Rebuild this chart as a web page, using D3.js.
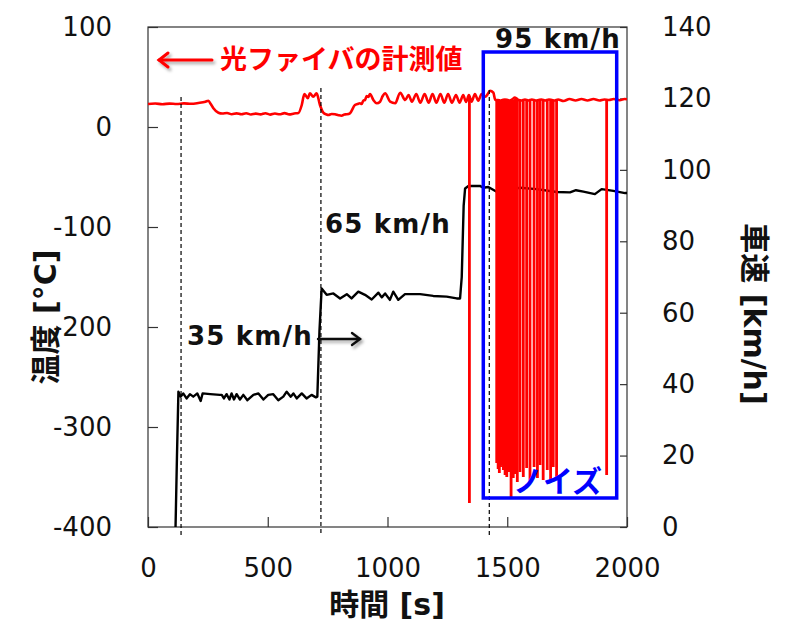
<!DOCTYPE html>
<html>
<head>
<meta charset="utf-8">
<script src="https://cdn.jsdelivr.net/npm/d3@7.9.0/dist/d3.min.js"></script>
<style>
  body { margin: 0; background: #fff; }
  svg { display: block; }
</style>
</head>
<body>
<div id="chart"></div>
<script>
// temperature from the optical fiber (red), baseline readings
const tempTime = [0, 30, 60, 90, 120, 150, 180, 210, 240, 252, 262, 273, 294, 310, 330, 350, 370, 390, 410, 430, 450, 470, 490, 510, 530, 550, 570, 590, 610, 628,
  642, 653, 660, 667, 676, 690, 704, 718, 732, 745, 753, 767, 781, 795, 808, 820, 829, 843,
  864, 875, 885, 892, 899, 906, 913, 920, 927, 941, 955, 969, 980, 990, 1011, 1032, 1053, 1074, 1088, 1102, 1120, 1137, 1155, 1172, 1188, 1204, 1221, 1237, 1253, 1269, 1286, 1301, 1316, 1328, 1340, 1351, 1365, 1379, 1393, 1407, 1416, 1428, 1442,
  1450, 1461, 1472, 1480, 1490, 1502, 1511, 1520, 1532, 1547, 1560, 1574, 1588, 1603, 1619, 1631, 1643, 1658, 1674, 1686, 1699, 1712,
  1735, 1760, 1785, 1810, 1835, 1860, 1885, 1905, 1925, 1945, 1970, 1990, 2000];
const tempValue = [23, 23.5, 22.8, 23.4, 23, 23.6, 23.2, 24, 25.3, 26.3, 23, 18.7, 14.3, 13.5, 14, 12.8, 13.6, 12.7, 13.8, 12.5, 13.4, 12.6, 13.8, 12.4, 13.5, 12.7, 13.9, 12.6, 13.5, 14,
  22, 33, 31, 28.7, 33.7, 30.3, 33.7, 22, 14.3, 12.5, 12, 13, 12.7, 11.8, 11.3, 12.5, 12.7, 13.7,
  22, 23, 23.7, 23, 26.3, 27, 31, 30, 33, 27, 23.7, 25.3, 31, 33.7, 25.3, 23.7, 34.3, 27, 32, 25.3, 33, 24.3, 33, 24.3, 33, 24.3, 33, 24.3, 33, 24.3, 32, 24.3, 32, 25, 32, 25.3, 33, 26.3, 33, 30.3, 32, 36.3, 34.3,
  27, 27, 26.5, 27, 27.5, 27, 26.5, 27.5, 29.5, 27, 26.5, 27.5, 26.5, 27.5, 26.5, 27, 27.5, 26.5, 27.5, 27, 26.5, 27.5,
  26, 28, 26.5, 28, 26.5, 28, 26.5, 27.5, 27, 28, 26.8, 28, 27.8];

// noise drops in the fiber reading (time, level it drops from, lowest value)
const noiseTime = [1342, 1456, 1462, 1467, 1472, 1477, 1484, 1491, 1498, 1507, 1516, 1525, 1534, 1542, 1553, 1567, 1581, 1595, 1612, 1626, 1637, 1650, 1667, 1681, 1692, 1706, 1915];
const noiseTop = [31, 27, 27, 27, 27, 27, 27, 27, 27, 27, 27, 27, 28, 27, 27, 27, 27, 27, 27, 27, 27, 27, 27, 27, 27, 27, 27];
const noiseMin = [-376, -336, -342, -346, -340, -338, -343, -348, -350, -345, -370, -351, -347, -355, -345, -350, -341, -356, -340, -351, -338, -353, -343, -355, -340, -350, -348];

// vehicle speed (black)
const speedTime = [115, 121, 127, 136, 147, 161, 175, 189, 206, 220, 228, 260, 300, 308, 317, 328, 340, 349, 359, 370, 384, 398, 415, 440, 461, 482, 502, 523, 544, 565, 579, 596, 607, 621, 642, 662, 683, 701, 707,
  716, 725, 746, 774, 802, 830, 850, 878, 906, 934, 962, 976, 990, 1010, 1024, 1045, 1073, 1136, 1191, 1247, 1289, 1303,
  1310, 1318, 1324, 1338, 1386, 1400, 1421, 1463, 1498, 1553, 1623, 1706, 1762, 1787, 1818, 1866, 1894, 1943, 1992, 2000];
const speedValue = [0, 20, 37.9, 36.5, 37.4, 36, 37.2, 36.5, 37.4, 35.3, 37.4, 37.2, 37, 37, 36, 37.2, 35.7, 37.4, 35.7, 37.2, 35.7, 37, 35.5, 37, 37.4, 35.7, 37, 37.2, 35.5, 36.5, 37.9, 36.5, 37.4, 36, 37.4, 36, 37, 36.3, 36.5,
  55, 66.8, 65, 65.4, 64, 65.2, 64, 65.9, 65, 63.7, 65.6, 64.3, 65.4, 63.6, 65.9, 63.6, 65.2, 65.2, 64.7, 64.5, 64, 64,
  70, 90, 94.8, 95.5, 95.5, 95, 95.2, 93.6, 94, 95, 94.6, 93.8, 93.7, 94.3, 93.9, 93.2, 94.6, 94.1, 93.5, 93.5];

// dashed markers where each speed step is reached
const markerTime = [138, 722, 1425];
const markerTop = [30, 39, 37];

const xTicks = [0, 500, 1000, 1500, 2000];
const tempTicks = [-400, -300, -200, -100, 0, 100];
const speedTicks = [0, 20, 40, 60, 80, 100, 120, 140];

const W = 795, H = 627;
const mLeft = 148, mRight = 627, mTop = 27, mBottom = 527;

const svg = d3.select("#chart").append("svg")
  .attr("width", W).attr("height", H);

const defs = svg.append("defs");
const shadow = defs.append("filter").attr("id", "shadow")
  .attr("x", "-20%").attr("y", "-50%").attr("width", "150%").attr("height", "250%");
shadow.append("feDropShadow")
  .attr("dx", 2).attr("dy", 2.5).attr("stdDeviation", 1.5)
  .attr("flood-color", "#000").attr("flood-opacity", 0.35);
defs.append("clipPath").attr("id", "plot")
  .append("rect").attr("x", mLeft).attr("y", mTop).attr("width", mRight - mLeft).attr("height", mBottom - mTop);

const x = d3.scaleLinear().domain([0, 2000]).range([mLeft, mRight]);
const yT = d3.scaleLinear().domain([-400, 100]).range([mBottom, mTop]);
const yS = d3.scaleLinear().domain([0, 140]).range([mBottom, mTop]);

const tickFont = "'DejaVu Sans', Verdana, sans-serif";
const titleFont = "'DejaVu Sans', 'Noto Sans CJK JP', sans-serif";

// axes (ticks point inward)
const axL = svg.append("g").attr("transform", `translate(${mLeft},0)`)
  .call(d3.axisLeft(yT).tickValues(tempTicks).tickSize(-10).tickPadding(36).tickFormat(d => d < 0 ? "-" + Math.abs(d) : d));
const axR = svg.append("g").attr("transform", `translate(${mRight},0)`)
  .call(d3.axisRight(yS).tickValues(speedTicks).tickSize(-7).tickPadding(35));
const axB = svg.append("g").attr("transform", `translate(0,${mBottom})`)
  .call(d3.axisBottom(x).tickValues(xTicks).tickSize(-10).tickPadding(32).tickFormat(d3.format("d")));

[axL, axR, axB].forEach(g => {
  g.select(".domain").remove();
  g.selectAll("line").attr("stroke", "#333").attr("stroke-width", 1.2);
  g.selectAll("text").attr("font-family", tickFont).attr("font-size", 26).attr("fill", "#111");
});

// frame
svg.append("rect")
  .attr("x", mLeft).attr("y", mTop).attr("width", mRight - mLeft).attr("height", mBottom - mTop)
  .attr("fill", "none").attr("stroke", "#333").attr("stroke-width", 1.2);

const plot = svg.append("g").attr("clip-path", "url(#plot)");

// speed line
const speed = speedTime.map((t, i) => [t, speedValue[i]]);
plot.append("path")
  .datum(speed)
  .attr("fill", "none").attr("stroke", "#000").attr("stroke-width", 2.4)
  .attr("stroke-linejoin", "round")
  .attr("d", d3.line().x(d => x(d[0])).y(d => yS(d[1])));

// temperature line
const temp = tempTime.map((t, i) => [t, tempValue[i]]);
plot.append("path")
  .datum(temp)
  .attr("fill", "none").attr("stroke", "#ff0000").attr("stroke-width", 2.6)
  .attr("stroke-linejoin", "round")
  .attr("d", d3.line().curve(d3.curveMonotoneX).x(d => x(d[0])).y(d => yT(d[1])));

// noise drops: near-vertical strokes down from the trace
const noise = noiseTime.map((t, i) => [[t, noiseTop[i]], [t, noiseMin[i]]]);
plot.selectAll(".noise")
  .data(noise)
  .enter().append("path")
  .attr("class", "noise")
  .attr("fill", "none").attr("stroke", "#ff0000").attr("stroke-width", 2.8)
  .attr("d", d3.line().x(d => x(d[0])).y(d => yT(d[1])));

// dashed markers
svg.selectAll(".marker")
  .data(markerTime)
  .enter().append("line")
  .attr("class", "marker")
  .attr("x1", d => x(d)).attr("x2", d => x(d))
  .attr("y1", (d, i) => yT(markerTop[i])).attr("y2", mBottom + 9)
  .attr("stroke", "#000").attr("stroke-width", 1.2).attr("stroke-dasharray", "4,3");

// noise box
svg.append("rect")
  .attr("x", x(1400)).attr("y", yT(75))
  .attr("width", x(1957) - x(1400)).attr("height", yT(-371) - yT(75))
  .attr("fill", "none").attr("stroke", "#0000ff").attr("stroke-width", 3.5);

svg.append("text")
  .attr("x", 513).attr("y", 492)
  .attr("font-family", "'Noto Sans CJK JP', sans-serif").attr("font-weight", "bold")
  .attr("font-size", 30).attr("fill", "#0000ff")
  .text("ノイズ");

// speed labels
const speedLabels = [
  { text: "95 km/h", x: 495, y: 48 },
  { text: "65 km/h", x: 325, y: 233 },
  { text: "35 km/h", x: 187, y: 345 }
];
svg.selectAll(".speed-label")
  .data(speedLabels)
  .enter().append("text")
  .attr("class", "speed-label")
  .attr("x", d => d.x).attr("y", d => d.y)
  .attr("font-family", tickFont).attr("font-weight", "bold")
  .attr("font-size", 26).attr("letter-spacing", 1.2).attr("fill", "#111")
  .text(d => d.text);

// arrow after 35 km/h
const arrB = svg.append("g").attr("filter", "url(#shadow)")
  .attr("stroke", "#111").attr("stroke-width", 2.4).attr("fill", "none").attr("stroke-linecap", "round");
arrB.append("line").attr("x1", 318).attr("y1", 339).attr("x2", 360).attr("y2", 339);
arrB.append("polyline").attr("points", "352,333 360,339 352,345");

// red legend arrow + text
const arrR = svg.append("g").attr("filter", "url(#shadow)")
  .attr("stroke", "#ff0000").attr("stroke-width", 3).attr("fill", "none").attr("stroke-linecap", "round");
arrR.append("line").attr("x1", 159).attr("y1", 60).attr("x2", 212).attr("y2", 60);
arrR.append("polyline").attr("points", "168,53 159,60 168,67");

svg.append("text")
  .attr("x", 220).attr("y", 69)
  .attr("font-family", "'Noto Sans CJK JP', sans-serif").attr("font-weight", "bold")
  .attr("font-size", 27).attr("fill", "#ff0000")
  .text("光ファイバの計測値");

// axis titles
svg.append("text")
  .attr("transform", `translate(387,615)`)
  .attr("text-anchor", "middle")
  .attr("font-family", titleFont).attr("font-weight", "bold").attr("font-size", 30).attr("fill", "#111")
  .text("時間 [s]");

svg.append("text")
  .attr("transform", `translate(56,317) rotate(-90)`)
  .attr("text-anchor", "middle")
  .attr("font-family", titleFont).attr("font-weight", "bold").attr("font-size", 30).attr("fill", "#111")
  .text("温度 [°C]");

svg.append("text")
  .attr("transform", `translate(744,314) rotate(90)`)
  .attr("text-anchor", "middle")
  .attr("font-family", titleFont).attr("font-weight", "bold").attr("font-size", 30).attr("fill", "#111")
  .text("車速 [km/h]");
</script>
</body>
</html>
